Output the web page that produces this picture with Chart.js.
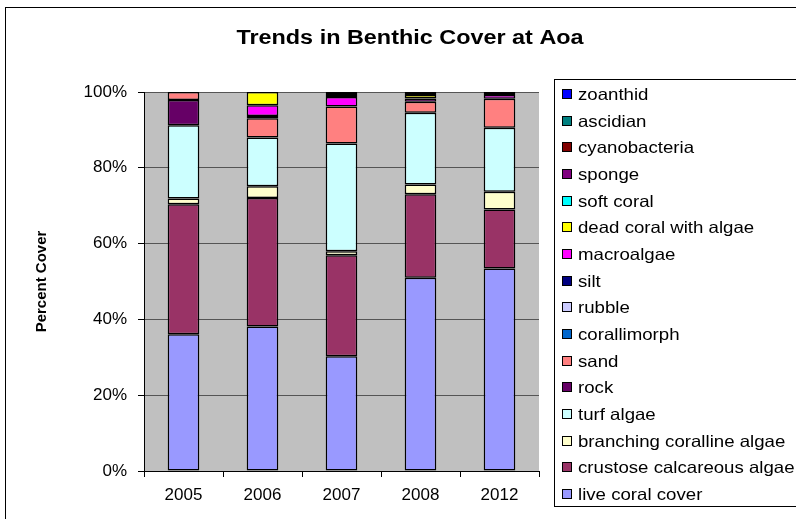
<!DOCTYPE html>
<html>
<head>
<meta charset="utf-8">
<script src="https://cdn.jsdelivr.net/npm/chart.js@4"></script>
<style>
  html, body { margin: 0; padding: 0; background: #fff; }
  #wrap { width: 796px; height: 519px; position: relative; }
</style>
</head>
<body>
<div id="wrap"><canvas id="c" width="796" height="519"></canvas></div>
<script>
// Survey years
const years = ['2005', '2006', '2007', '2008', '2012'];

// Percent cover per benthic category, bottom of the stack first
const liveCoral      = [36.1, 38.1, 30.3, 51.0, 53.4];
const crustoseAlgae  = [34.3, 33.9, 26.6, 22.0, 15.6];
const branchingAlgae = [1.5, 3.1, 1.1, 2.6, 4.7];
const turfAlgae      = [19.3, 12.9, 28.4, 18.9, 16.9];
const rock           = [6.7, 0, 0, 0, 0];
const sand           = [2.1, 5.1, 9.8, 2.9, 7.6];
const corallimorph   = [0, 0, 0, 0, 0];
const rubble         = [0, 0, 0, 0, 0];
const silt           = [0, 0.6, 0, 0, 0];
const macroalgae     = [0, 2.8, 2.5, 0.9, 1.0];
const deadCoralAlgae = [0, 3.5, 0.5, 0.9, 0];
const softCoral      = [0, 0, 0, 0, 0];
const sponge         = [0, 0, 0, 0, 0.8];
const cyanobacteria  = [0, 0, 0, 0.8, 0];
const ascidian       = [0, 0, 0, 0, 0];
const zoanthid       = [0, 0, 0.8, 0, 0];

// Y axis tick values
const yTicks = [0, 20, 40, 60, 80, 100];

const chartTitle = 'Trends in Benthic Cover at Aoa';

const series = [
  ['live coral cover', liveCoral, '#9999FF'],
  ['crustose calcareous algae', crustoseAlgae, '#993366'],
  ['branching coralline algae', branchingAlgae, '#FFFFCC'],
  ['turf algae', turfAlgae, '#CCFFFF'],
  ['rock', rock, '#660066'],
  ['sand', sand, '#FF8080'],
  ['corallimorph', corallimorph, '#0066CC'],
  ['rubble', rubble, '#CCCCFF'],
  ['silt', silt, '#000080'],
  ['macroalgae', macroalgae, '#FF00FF'],
  ['dead coral with algae', deadCoralAlgae, '#FFFF00'],
  ['soft coral', softCoral, '#00FFFF'],
  ['sponge', sponge, '#800080'],
  ['cyanobacteria', cyanobacteria, '#800000'],
  ['ascidian', ascidian, '#008080'],
  ['zoanthid', zoanthid, '#0000FF']
];

const FONT = '"Liberation Sans", Arial, sans-serif';

// White page, outer frame, grey plot area
const plotBackground = {
  id: 'plotBackground',
  beforeDraw(chart) {
    const { ctx, chartArea: a } = chart;
    ctx.save();
    ctx.fillStyle = '#fff';
    ctx.fillRect(0, 0, chart.width, chart.height);
    ctx.strokeStyle = '#000';
    ctx.lineWidth = 1;
    ctx.strokeRect(5.5, 7.5, 900, 600);
    ctx.fillStyle = '#C0C0C0';
    ctx.fillRect(a.left, a.top, a.right - a.left, a.bottom - a.top);
    ctx.restore();
  }
};

// Title centred over the whole frame, slightly widened type
const frameTitle = {
  id: 'frameTitle',
  afterDraw(chart) {
    const ctx = chart.ctx;
    ctx.save();
    ctx.font = 'bold 20px ' + FONT;
    ctx.fillStyle = '#000';
    ctx.textAlign = 'center';
    ctx.textBaseline = 'middle';
    ctx.translate(410, 38);
    ctx.scale(1.17, 1);
    ctx.fillText(chartTitle, 0, 0);
    ctx.restore();
  }
};

// Boxed legend listing the stack top-down
const boxLegend = {
  id: 'boxLegend',
  afterDraw(chart) {
    const ctx = chart.ctx;
    const items = chart.data.datasets.slice().reverse();
    ctx.save();
    ctx.strokeStyle = '#000';
    ctx.lineWidth = 1;
    ctx.strokeRect(554.5, 79.5, 300, 427);
    ctx.font = '16.5px ' + FONT;
    ctx.textBaseline = 'middle';
    ctx.textAlign = 'left';
    items.forEach((ds, i) => {
      const y = Math.round(94 + i * 26.67);
      ctx.fillStyle = ds.backgroundColor;
      ctx.fillRect(562, y - 5, 10, 10);
      ctx.strokeStyle = '#000';
      ctx.strokeRect(562.5, y - 4.5, 9, 9);
      ctx.save();
      ctx.translate(578, y + 1);
      ctx.scale(1.13, 1);
      ctx.fillStyle = '#000';
      ctx.fillText(ds.label, 0, 0);
      ctx.restore();
    });
    ctx.restore();
  }
};

new Chart(document.getElementById('c'), {
  type: 'bar',
  data: {
    labels: years,
    datasets: series.map(([label, values, color]) => ({
      label,
      data: values.map(v => (v > 0 ? v : null)),
      backgroundColor: color,
      borderColor: '#000',
      borderWidth: 1.5,
      borderSkipped: false,
      barPercentage: 0.4,
      categoryPercentage: 1.0
    }))
  },
  options: {
    responsive: false,
    animation: false,
    devicePixelRatio: 1,
    layout: { padding: { top: 92, right: 257, bottom: 0, left: 0 } },
    plugins: {
      legend: { display: false },
      tooltip: { enabled: false },
      title: { display: false }
    },
    scales: {
      x: {
        stacked: true,
        grid: {
          offset: true,
          drawOnChartArea: false,
          drawTicks: true,
          tickLength: 6,
          tickColor: '#000'
        },
        border: { color: '#000', width: 1 },
        ticks: { color: '#000', font: { family: FONT, size: 17 }, padding: 8 },
        afterFit(scale) { scale.height = 48; }
      },
      y: {
        stacked: true,
        min: 0,
        max: 100,
        afterBuildTicks(scale) { scale.ticks = yTicks.map(v => ({ value: v })); },
        grid: {
          color: '#555',
          lineWidth: 1,
          drawTicks: true,
          tickLength: 6,
          tickColor: '#000'
        },
        border: { color: '#000', width: 1 },
        ticks: {
          color: '#000',
          font: { family: FONT, size: 17 },
          padding: 11,
          callback: v => v + '%'
        },
        title: {
          display: true,
          text: 'Percent Cover',
          color: '#000',
          font: { family: FONT, size: 15, weight: 'bold' },
          padding: { top: 33, bottom: 0 }
        },
        afterFit(scale) { scale.width = 144; }
      }
    }
  },
  plugins: [plotBackground, frameTitle, boxLegend]
});
</script>
</body>
</html>
